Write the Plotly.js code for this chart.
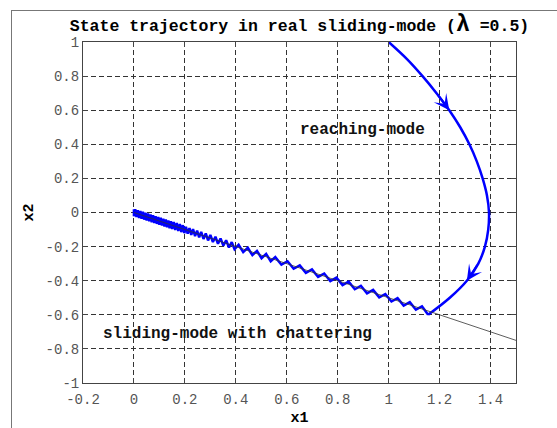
<!DOCTYPE html>
<html>
<head>
<meta charset="utf-8">
<script src="https://cdn.plot.ly/plotly-3.0.1.min.js"></script>
<style>
  html, body { margin: 0; padding: 0; background: #fff; }
  #wrap { position: relative; width: 557px; height: 428px; }
  #chart { width: 557px; height: 428px; }
  #frame { position: absolute; left: 11px; top: 10px; right: 0; bottom: 0;
           border-top: 1px solid #777; border-left: 1px solid #777; pointer-events: none; }
</style>
</head>
<body>
<div id="wrap">
  <div id="chart"></div>
  <div id="frame"></div>
</div>
<script>
// Reaching phase (x1, x2)
const reachX = [1.000, 1.072, 1.133, 1.188, 1.238, 1.281, 1.317, 1.346, 1.369, 1.386, 1.394, 1.391, 1.378, 1.352, 1.307, 1.240, 1.155];
const reachY = [1.000, 0.900, 0.800, 0.700, 0.600, 0.500, 0.400, 0.300, 0.200, 0.100, 0.000, -0.100, -0.200, -0.300, -0.400, -0.500, -0.600];

// Sliding phase with chattering (zig-zag vertices)
const chatterX = [1.155, 1.131, 1.107, 1.083, 1.059, 1.035, 1.011, 0.987, 0.963, 0.939, 0.915, 0.891, 0.867, 0.843, 0.819, 0.795, 0.771, 0.747, 0.723, 0.699, 0.675, 0.651, 0.627, 0.603, 0.579, 0.555,
  0.537, 0.519, 0.501, 0.483, 0.465, 0.447, 0.429, 0.411, 0.395,
  0.384, 0.373, 0.362, 0.351, 0.340, 0.330, 0.320, 0.310, 0.300, 0.291, 0.282, 0.273, 0.264, 0.256, 0.248, 0.240, 0.232, 0.225, 0.218, 0.211, 0.204,
  0.198, 0.192, 0.186, 0.180, 0.174, 0.168, 0.162, 0.156, 0.150,
  0.145, 0.140, 0.135, 0.130, 0.125, 0.120, 0.115, 0.110, 0.105, 0.100, 0.095, 0.090, 0.085, 0.080, 0.075, 0.070, 0.065, 0.060, 0.055, 0.050, 0.045, 0.040, 0.035, 0.030, 0.025, 0.020, 0.015, 0.010, 0.005, 0.000, 0.000];
const chatterY = [-0.600, -0.550, -0.570, -0.526, -0.546, -0.502, -0.522, -0.478, -0.498, -0.454, -0.474, -0.430, -0.450, -0.406, -0.426, -0.382, -0.402, -0.358, -0.378, -0.334, -0.354, -0.310, -0.330, -0.286, -0.306, -0.262,
  -0.286, -0.243, -0.268, -0.225, -0.250, -0.207, -0.232, -0.189, -0.215,
  -0.174, -0.205, -0.163, -0.194, -0.152, -0.183, -0.142, -0.173, -0.132, -0.164, -0.123, -0.155, -0.114, -0.146, -0.106, -0.138, -0.098, -0.131, -0.091, -0.124, -0.084,
  -0.121, -0.074, -0.115, -0.068, -0.109, -0.062, -0.103, -0.056, -0.097,
  -0.051, -0.092, -0.046, -0.087, -0.041, -0.082, -0.036, -0.077, -0.031, -0.072, -0.026, -0.067, -0.021, -0.062, -0.016, -0.057, -0.011, -0.052, -0.006, -0.047, -0.001, -0.042, 0.004, -0.037, 0.009, -0.032, 0.014, -0.027, 0.019, -0.022, 0.019];

// Sliding surface s = x2 + 0.5 x1 = 0
const surfaceX = [0, 1.5];
const surfaceY = [0, -0.75];

// Arrow positions as indices into the reaching arrays
const arrowTipIdx = [4, 14];

const xTickVals = [-0.2, 0, 0.2, 0.4, 0.6, 0.8, 1, 1.2, 1.4];
const xTickText = ['-0.2', '0', '0.2', '0.4', '0.6', '0.8', '1', '1.2', '1.4'];
const yTickVals = [-1, -0.8, -0.6, -0.4, -0.2, 0, 0.2, 0.4, 0.6, 0.8, 1];
const yTickText = ['-1', '-0.8', '-0.6', '-0.4', '-0.2', '0', '0.2', '0.4', '0.6', '0.8', '1'];

const titleText = "State trajectory in real sliding-mode (<span style='font-size:23px'>λ</span> =0.5)";
const labelReach = 'reaching-mode';
const labelSlide = 'sliding-mode with chattering';

const mono = 'Liberation Mono, Courier New, monospace';
const blue = '#0000ff';

const traces = [
  { x: reachX, y: reachY, type: 'scatter', mode: 'lines',
    line: { color: blue, width: 2.5, shape: 'spline', smoothing: 1 }, hoverinfo: 'skip' },
  { x: chatterX, y: chatterY, type: 'scatter', mode: 'lines',
    line: { color: blue, width: 2.5 }, hoverinfo: 'skip' },
  { x: surfaceX, y: surfaceY, type: 'scatter', mode: 'lines',
    line: { color: '#333', width: 0.8 }, hoverinfo: 'skip' }
];

const arrows = arrowTipIdx.map(i => ({
  x: reachX[i], y: reachY[i], ax: reachX[i - 1], ay: reachY[i - 1],
  xref: 'x', yref: 'y', axref: 'x', ayref: 'y',
  text: '', showarrow: true, arrowhead: 3, arrowsize: 1.3, arrowwidth: 2,
  arrowcolor: blue, standoff: 0, startstandoff: 0
}));

const axisCommon = {
  showline: true, mirror: 'ticks', linecolor: '#444', linewidth: 1,
  showgrid: true, gridcolor: '#333', gridwidth: 1, griddash: '5px,3px',
  zeroline: false, ticks: 'inside', ticklen: 5, tickcolor: '#444', tickwidth: 1,
  tickfont: { family: mono, size: 14, color: '#555' }
};

const layout = {
  width: 557, height: 428,
  margin: { l: 83, r: 41, t: 42, b: 45 },
  paper_bgcolor: '#fff', plot_bgcolor: '#fff',
  showlegend: false, hovermode: false,
  title: { text: titleText, font: { family: mono, size: 16.5, color: '#000', weight: 'bold' },
           x: 0.5, xref: 'paper', xanchor: 'center', y: 1 - 25 / 428, yanchor: 'middle' },
  xaxis: Object.assign({}, axisCommon, {
    range: [-0.2, 1.5], tickvals: xTickVals, ticktext: xTickText, ticklabelstandoff: 3,
    title: { text: 'x1', font: { family: mono, size: 15, color: '#000', weight: 'bold' }, standoff: 4 }
  }),
  yaxis: Object.assign({}, axisCommon, {
    range: [-1, 1], tickvals: yTickVals, ticktext: yTickText,
    title: { text: 'x2', font: { family: mono, size: 15, color: '#000', weight: 'bold' }, standoff: 8 }
  }),
  annotations: arrows.concat([
    { x: 0.896, y: 0.484, xref: 'x', yref: 'y', text: labelReach, showarrow: false,
      font: { family: mono, size: 16, color: '#111', weight: 'bold' } },
    { x: 0.408, y: -0.71, xref: 'x', yref: 'y', text: labelSlide, showarrow: false,
      font: { family: mono, size: 16, color: '#111', weight: 'bold' } }
  ])
};

Plotly.newPlot('chart', traces, layout, { displayModeBar: false, staticPlot: true });
</script>
</body>
</html>
